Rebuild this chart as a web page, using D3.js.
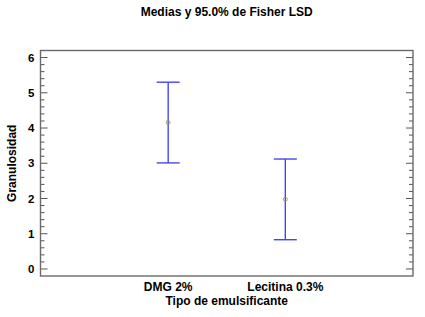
<!DOCTYPE html>
<html>
<head>
<meta charset="utf-8">
<script src="https://cdn.jsdelivr.net/npm/d3@7"></script>
<style>
  body { margin: 0; background: #fff; }
  svg text { font-family: Arial, "Liberation Sans", sans-serif; font-weight: bold; fill: #000; }
</style>
</head>
<body>
<div id="chart"></div>
<script>
// data
const categories = ["DMG 2%", "Lecitina 0.3%"];
const means = [4.16, 1.98];
const lower = [3.01, 0.83];
const upper = [5.30, 3.12];
const yTicks = [0, 1, 2, 3, 4, 5, 6];

const W = 425, H = 317;
const margin = {top: 50.5, right: 12, bottom: 41, left: 40.5};
const width = W - margin.left - margin.right;
const height = H - margin.top - margin.bottom;

const svg = d3.select("#chart").append("svg")
    .attr("width", W)
    .attr("height", H);

const g = svg.append("g")
    .attr("transform", `translate(${margin.left}, ${margin.top})`);

const x = d3.scalePoint()
    .domain(categories)
    .range([0, width])
    .padding(1.09);

const y = d3.scaleLinear()
    .domain([-0.2, 6.2])
    .range([height, 0]);

// minor ticks every 0.2
const minor = d3.range(0, 6.01, 0.2).filter(v => Math.abs(v - Math.round(v)) > 1e-6);

// left axis, ticks pointing inward
const leftAxis = g.append("g").attr("class", "y-axis");
leftAxis.selectAll(".major")
    .data(yTicks)
    .enter().append("line")
    .attr("x1", 0).attr("x2", 7)
    .attr("y1", d => y(d)).attr("y2", d => y(d))
    .style("stroke", "#555").style("stroke-width", 1);
leftAxis.selectAll(".minor")
    .data(minor)
    .enter().append("line")
    .attr("x1", 0).attr("x2", 4)
    .attr("y1", d => y(d)).attr("y2", d => y(d))
    .style("stroke", "#555").style("stroke-width", 1);
leftAxis.selectAll("text")
    .data(yTicks)
    .enter().append("text")
    .text(d => d)
    .attr("x", -6)
    .attr("y", d => y(d))
    .attr("dy", "0.35em")
    .attr("text-anchor", "end")
    .style("font-size", "11.5px");

// right side ticks
const rightAxis = g.append("g").attr("transform", `translate(${width}, 0)`);
rightAxis.selectAll(".major")
    .data(yTicks)
    .enter().append("line")
    .attr("x1", 0).attr("x2", -7)
    .attr("y1", d => y(d)).attr("y2", d => y(d))
    .style("stroke", "#555").style("stroke-width", 1);
rightAxis.selectAll(".minor")
    .data(minor)
    .enter().append("line")
    .attr("x1", 0).attr("x2", -4)
    .attr("y1", d => y(d)).attr("y2", d => y(d))
    .style("stroke", "#555").style("stroke-width", 1);

// frame
g.append("rect")
    .attr("width", width)
    .attr("height", height)
    .style("fill", "none")
    .style("stroke", "#6a6a6a")
    .style("stroke-width", 1.4);

// intervals
const capW = 11.5;
const bars = g.selectAll(".interval")
    .data(categories.map((c, i) => ({c, m: means[i], lo: lower[i], hi: upper[i]})))
    .enter().append("g")
    .attr("class", "interval");

bars.append("line")
    .attr("x1", d => x(d.c)).attr("x2", d => x(d.c))
    .attr("y1", d => y(d.hi)).attr("y2", d => y(d.lo))
    .style("stroke", "#4646f0").style("stroke-width", 1.4);
bars.append("line")
    .attr("x1", d => x(d.c) - capW).attr("x2", d => x(d.c) + capW)
    .attr("y1", d => y(d.hi)).attr("y2", d => y(d.hi))
    .style("stroke", "#4646f0").style("stroke-width", 1.4);
bars.append("line")
    .attr("x1", d => x(d.c) - capW).attr("x2", d => x(d.c) + capW)
    .attr("y1", d => y(d.lo)).attr("y2", d => y(d.lo))
    .style("stroke", "#4646f0").style("stroke-width", 1.4);
bars.append("circle")
    .attr("cx", d => x(d.c))
    .attr("cy", d => y(d.m))
    .attr("r", 2)
    .style("fill", "none")
    .style("stroke", "#a09a50")
    .style("stroke-width", 0.9);

// category labels
g.selectAll(".xlab")
    .data(categories)
    .enter().append("text")
    .text(d => d)
    .attr("x", d => x(d))
    .attr("y", height + 15)
    .attr("text-anchor", "middle")
    .style("font-size", "12px");

// titles
svg.append("text")
    .text("Medias y 95.0% de Fisher LSD")
    .attr("x", margin.left + width / 2)
    .attr("y", 16)
    .attr("text-anchor", "middle")
    .style("font-size", "12px");

svg.append("text")
    .text("Tipo de emulsificante")
    .attr("x", margin.left + width / 2)
    .attr("y", 305)
    .attr("text-anchor", "middle")
    .style("font-size", "12px");

svg.append("text")
    .text("Granulosidad")
    .attr("transform", `translate(16, ${margin.top + height / 2}) rotate(-90)`)
    .attr("text-anchor", "middle")
    .style("font-size", "12px");
</script>
</body>
</html>
